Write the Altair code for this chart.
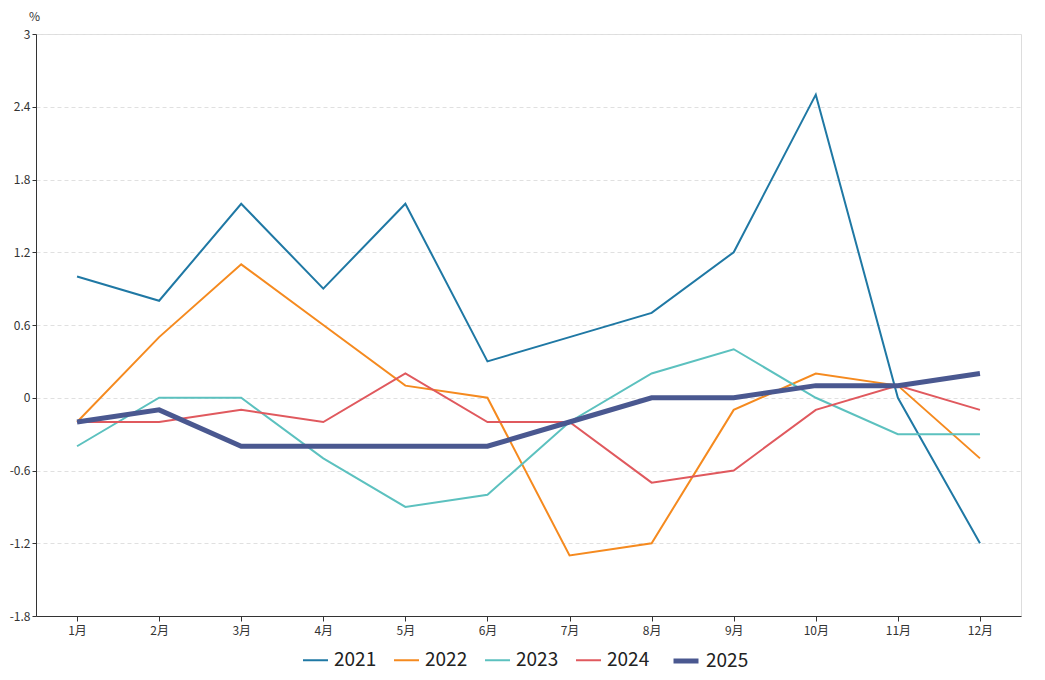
import altair as alt
import pandas as pd

months = [f"{i}月" for i in range(1, 13)]
years = ["2021", "2022", "2023", "2024", "2025"]
v2021 = [1.0, 0.8, 1.6, 0.9, 1.6, 0.3, 0.5, 0.7, 1.2, 2.5, 0.0, -1.2]
v2022 = [-0.2, 0.5, 1.1, 0.6, 0.1, 0.0, -1.3, -1.2, -0.1, 0.2, 0.1, -0.5]
v2023 = [-0.4, 0.0, 0.0, -0.5, -0.9, -0.8, -0.2, 0.2, 0.4, 0.0, -0.3, -0.3]
v2024 = [-0.2, -0.2, -0.1, -0.2, 0.2, -0.2, -0.2, -0.7, -0.6, -0.1, 0.1, -0.1]
v2025 = [-0.2, -0.1, -0.4, -0.4, -0.4, -0.4, -0.2, 0.0, 0.0, 0.1, 0.1, 0.2]
colors = ["#1f78a4", "#f58a1f", "#5cc1bf", "#e0595e", "#4a5890"]
widths = [2, 2, 2, 2, 5]

series = [v2021, v2022, v2023, v2024, v2025]
rows = []
for y, vals in zip(years, series):
    for m, v in zip(months, vals):
        rows.append({"month": m, "year": y, "value": v})
df = pd.DataFrame(rows)

font = "Noto Sans CJK SC"

leg = alt.Legend(orient="none", direction="horizontal", legendX=266, legendY=612,
                 title=None, symbolType="stroke",
                 labelFontSize=19, labelColor="#222",
                 symbolSize=625, columnPadding=13,
                 labelOffset=5)

chart = alt.Chart(df).mark_line().encode(
    x=alt.X("month:O", sort=months, title=None,
            scale=alt.Scale(type="point", padding=0.5),
            axis=alt.Axis(labelAngle=0, labelFontSize=12, labelColor="#333",
                          domainColor="#333", tickColor="#333", tickSize=5,
                          labelPadding=4, grid=False)),
    y=alt.Y("value:Q", title="%",
            scale=alt.Scale(domain=[-1.8, 3], nice=False, zero=False),
            axis=alt.Axis(values=[-1.8, -1.2, -0.6, 0, 0.6, 1.2, 1.8, 2.4, 3],
                          labelExpr="toString(datum.value)",
                          labelFontSize=12, labelColor="#333",
                          domainColor="#333", tickColor="#333", tickSize=4,
                          labelPadding=2,
                          grid=True, gridColor="#e0e0e0", gridDash=[4, 3],
                          titleAngle=0, titleAlign="center", titleBaseline="middle",
                          titleX=-2, titleY=-18, titleFontSize=12,
                          titleFontWeight="normal", titleColor="#333")),
    color=alt.Color("year:O", scale=alt.Scale(domain=years, range=colors),
                    legend=leg),
    strokeWidth=alt.StrokeWidth("year:O",
                                scale=alt.Scale(type="ordinal", domain=years, range=widths),
                                legend=leg),
).properties(
    width=985, height=582,
    autosize=alt.AutoSizeParams(type="none"),
    padding={"left": 28, "top": 26, "right": 16, "bottom": 56},
).configure_view(stroke=None).configure(font=font)

chart.save("out.html", embed_options={"renderer": "svg", "actions": False})
